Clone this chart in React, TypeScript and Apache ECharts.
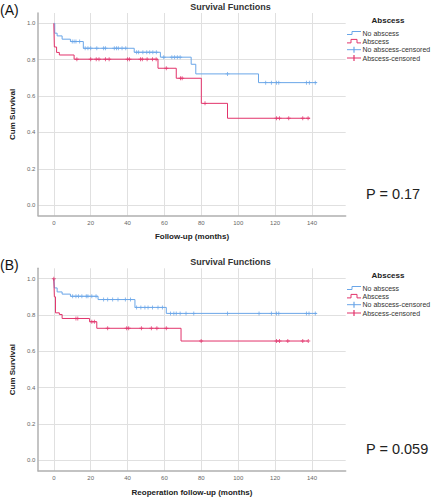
import React, { useEffect, useRef } from "react";
import * as echarts from "echarts";

// ---- tick labels ----
const xTicks = [0, 20, 40, 60, 80, 100, 120, 140];
const yTicks = [0, 0.2, 0.4, 0.6, 0.8, 1.0];

// ---- Panel A: Follow-up (months) ----
const aNoTimes = [0, 0.5, 1.8, 4.5, 9, 16, 43.6, 57.8, 74.5, 77, 111, 142.7];
const aNoSurv = [1, 0.946, 0.931, 0.913, 0.9, 0.863, 0.841, 0.814, 0.775, 0.722, 0.674, 0.674];
const aAbTimes = [0, 0.3, 1.5, 3, 11, 56.5, 66.4, 80, 94.2, 139];
const aAbSurv = [1, 0.87, 0.84, 0.826, 0.803, 0.753, 0.698, 0.56, 0.478, 0.478];
const aNoCensored = [10, 11, 12, 14, 17, 18.5, 20, 23.3, 27, 28, 32.8, 34, 35, 37, 39, 44.9, 46, 48.3, 50.4, 52, 53.7, 55.6, 59.6, 64, 65.5, 67, 68.5, 94.2, 114.9, 118, 120.8, 122, 137, 138.6, 141.8];
const aAbCensored = [12.5, 20, 23, 24.5, 28, 30, 40, 41, 47, 48, 50.6, 53.5, 55.5, 61, 68.7, 69.6, 82, 120.8, 122.4, 127.4, 135, 137.9];

// ---- Panel B: Reoperation follow-up (months) ----
const bNoTimes = [0, 0.3, 1.8, 4.5, 9, 24, 44, 61, 142.7];
const bNoSurv = [1, 0.949, 0.927, 0.915, 0.903, 0.885, 0.842, 0.809, 0.809];
const bAbTimes = [0, 0.3, 0.9, 3, 4.5, 19.4, 23.3, 69, 138];
const bAbSurv = [1, 0.9, 0.812, 0.803, 0.781, 0.763, 0.727, 0.657, 0.657];
const bNoCensored = [10.2, 12, 13.4, 15.2, 17.6, 18.5, 20.6, 22.9, 27, 29.2, 31.9, 34.8, 38.8, 41.6, 44.9, 47.2, 49.4, 51.1, 53.5, 56.5, 58.9, 63.3, 65.1, 66.4, 68.5, 71.7, 75.9, 94.2, 111.3, 118, 120.8, 122, 137, 138.4, 141.8];
const bAbCensored = [0, 12, 13, 20.6, 22, 29.2, 39.5, 40.6, 47.5, 52.9, 55.9, 61, 79.9, 120.8, 122.4, 126.9, 135, 138];

const legendNames = ["No abscess", "Abscess", "No abscess-censored", "Abscess-censored"];
const pValues = ["P = 0.17", "P = 0.059"];
const xTitles = ["Follow-up (months)", "Reoperation follow-up (months)"];
const panelLabels = ["(A)", "(B)"];

const BLUE = "#6aa6e8";
const RED = "#e2336b";
const FONT = "'Liberation Sans', Arial, sans-serif";
const PLUS = "path://M-0.7,-3H0.7V-0.7H3V0.7H0.7V3H-0.7V0.7H-3V-0.7H-0.7Z";

const zip = (t: number[], s: number[]) => t.map((x, i) => [x, s[i]]);
const survAt = (t: number[], s: number[], time: number) => {
  let v = s[0];
  for (let i = 0; i < t.length; i++) if (t[i] <= time) v = s[i];
  return v;
};

export default function App() {
  const ref = useRef<HTMLDivElement>(null);
  useEffect(() => {
    document.body.style.margin = "0";
    const chart = echarts.init(ref.current!, null, { renderer: "svg" });
    const gridTops = [13, 268.3];
    const off = [0, 255];

    const xAxes = [0, 1].map((i) => ({
      type: "value",
      gridIndex: i,
      min: -8.45,
      max: 158.3,
      axisLine: { show: true, onZero: false, lineStyle: { color: "#b0b0b0", width: 1.5 } },
      axisTick: { show: false, customValues: xTicks },
      axisLabel: { customValues: xTicks, fontSize: 6, color: "#666", margin: 4, fontFamily: FONT },
      splitLine: { show: true, lineStyle: { color: "#e0e0e0", width: 1 } },
      name: xTitles[i],
      nameLocation: "middle",
      nameGap: 17,
      nameTextStyle: { fontSize: 8, fontWeight: "bold", color: "#222", fontFamily: FONT },
    }));
    const yAxes = [0, 1].map((i) => ({
      type: "value",
      gridIndex: i,
      min: -0.058,
      max: 1.057,
      axisLine: { show: true, onZero: false, lineStyle: { color: "#b0b0b0", width: 1.5 } },
      axisTick: { show: false, customValues: yTicks },
      axisLabel: {
        customValues: yTicks,
        fontSize: 6,
        color: "#666",
        margin: 3,
        fontFamily: FONT,
        formatter: (v: number) => v.toFixed(1),
      },
      splitLine: { show: true, lineStyle: { color: "#e0e0e0", width: 1 } },
      name: "Cum Survival",
      nameLocation: "middle",
      nameRotate: 90,
      nameGap: 19,
      nameTextStyle: { fontSize: 8, fontWeight: "bold", color: "#222", fontFamily: FONT },
    }));

    const panels = [
      { noT: aNoTimes, noS: aNoSurv, abT: aAbTimes, abS: aAbSurv, noC: aNoCensored, abC: aAbCensored },
      { noT: bNoTimes, noS: bNoSurv, abT: bAbTimes, abS: bAbSurv, noC: bNoCensored, abC: bAbCensored },
    ];
    const series: any[] = [];
    panels.forEach((p, i) => {
      series.push({
        name: legendNames[0], type: "line", step: "end", xAxisIndex: i, yAxisIndex: i,
        showSymbol: false, data: zip(p.noT, p.noS), lineStyle: { color: BLUE, width: 1 }, z: 2,
      });
      series.push({
        name: legendNames[1], type: "line", step: "end", xAxisIndex: i, yAxisIndex: i,
        showSymbol: false, data: zip(p.abT, p.abS), lineStyle: { color: RED, width: 1 }, z: 3,
      });
      series.push({
        name: legendNames[2], type: "scatter", xAxisIndex: i, yAxisIndex: i, symbol: PLUS, symbolSize: 4,
        data: p.noC.map((t) => [t, survAt(p.noT, p.noS, t)]), itemStyle: { color: BLUE }, z: 4,
      });
      series.push({
        name: legendNames[3], type: "scatter", xAxisIndex: i, yAxisIndex: i, symbol: PLUS, symbolSize: 4,
        data: p.abC.map((t) => [t, survAt(p.abT, p.abS, t)]), itemStyle: { color: RED }, z: 5,
      });
    });

    const graphic: any[] = [];
    [0, 1].forEach((i) => {
      const o = off[i];
      graphic.push({
        type: "text", left: 0, top: 3 + o,
        style: { text: panelLabels[i], fontSize: 14, fill: "#111", fontFamily: FONT },
      });
      graphic.push({
        type: "text", x: 230.5, y: 6.5 + o,
        style: { text: "Survival Functions", fontSize: 9, fontWeight: "bold", fill: "#333", fontFamily: FONT, align: "center", verticalAlign: "middle" },
      });
      graphic.push({
        type: "text", x: 388, y: 20 + o,
        style: { text: "Abscess", fontSize: 8, fontWeight: "bold", fill: "#222", fontFamily: FONT, align: "center", verticalAlign: "middle" },
      });
      const rows = [33, 41.4, 49.7, 58].map((y) => y + o);
      graphic.push({
        type: "polyline", shape: { points: [[347, rows[0] + 1.5], [352, rows[0] + 1.5], [352, rows[0] - 1.5], [361, rows[0] - 1.5]] },
        style: { stroke: BLUE, lineWidth: 1, fill: null },
      });
      graphic.push({
        type: "polyline", shape: { points: [[347, rows[1] + 1.5], [351, rows[1] + 1.5], [351, rows[1] - 2], [357, rows[1] - 2], [357, rows[1] + 1.5], [361, rows[1] + 1.5]] },
        style: { stroke: RED, lineWidth: 1, fill: null },
      });
      [2, 3].forEach((k) => {
        const c = k === 2 ? BLUE : RED;
        graphic.push({ type: "line", shape: { x1: 347, y1: rows[k], x2: 361, y2: rows[k] }, style: { stroke: c, lineWidth: 1 } });
        graphic.push({ type: "line", shape: { x1: 354, y1: rows[k] - 3, x2: 354, y2: rows[k] + 3 }, style: { stroke: c, lineWidth: 1.2 } });
      });
      legendNames.forEach((n, k) => {
        graphic.push({
          type: "text", x: 362.5, y: rows[k],
          style: { text: n, fontSize: 7, fill: "#333", fontFamily: FONT, verticalAlign: "middle" },
        });
      });
      graphic.push({
        type: "text", x: 366, y: 194 + o,
        style: { text: pValues[i], fontSize: 14.5, fill: "#222", fontFamily: FONT, verticalAlign: "middle" },
      });
    });

    chart.setOption({
      animation: false,
      backgroundColor: "#ffffff",
      grid: gridTops.map((t) => ({ left: 36, top: t, width: 309.7, height: 202.7 })),
      xAxis: xAxes,
      yAxis: yAxes,
      series,
      graphic,
    });
    return () => chart.dispose();
  }, []);
  return <div ref={ref} style={{ position: "fixed", left: 0, top: 0, width: 433, height: 500 }} />;
}
